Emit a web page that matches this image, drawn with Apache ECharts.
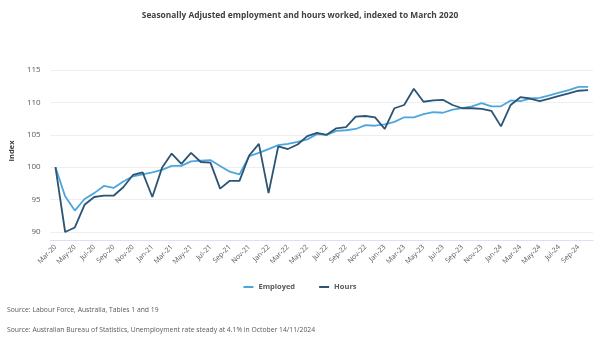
<!DOCTYPE html>
<html>
<head>
<meta charset="utf-8">
<script src="https://cdn.jsdelivr.net/npm/echarts@6/dist/echarts.min.js"></script>
<style>
html,body{margin:0;padding:0;background:#fff;}
#c{width:600px;height:345px;}
</style>
</head>
<body>
<div id="c"></div>
<script>
const months = ['Mar','Apr','May','Jun','Jul','Aug','Sep','Oct','Nov','Dec','Jan','Feb'];
const categories = [];
(function(){
  let m = 0, y = 20;
  for (let i = 0; i < 56; i++) {
    categories.push(months[m] + '-' + y);
    m++;
    if (m === 10) y++;
    if (m === 12) m = 0;
  }
})();
const employed = [100,95.5,93.3,95.1,96.0,97.1,96.8,97.8,98.6,98.9,
  99.2,99.6,100.2,100.2,100.9,101.0,101.1,100.2,99.3,98.9,
  101.7,102.2,102.8,103.4,103.6,103.9,104.3,105.1,105.0,105.6,
  105.7,105.9,106.5,106.4,106.6,107.0,107.7,107.7,108.2,108.5,
  108.4,108.9,109.1,109.4,109.9,109.4,109.4,110.3,110.2,110.6,
  110.7,111.1,111.5,111.9,112.4,112.4];
const hours = [100,90.0,90.7,94.2,95.4,95.6,95.6,96.9,98.8,99.2,
  95.4,99.9,102.1,100.5,102.2,100.8,100.7,96.7,97.9,97.9,
  101.8,103.6,96.0,103.2,102.8,103.5,104.8,105.3,105.0,106.0,
  106.2,107.8,107.9,107.7,105.9,109.1,109.6,112.1,110.1,110.3,
  110.4,109.6,109.1,109.1,109.0,108.7,106.3,109.6,110.8,110.6,
  110.2,110.6,111.0,111.4,111.8,111.9];
const yTicks = [90,95,100,105,110,115];

const chart = echarts.init(document.getElementById('c'), null, {renderer:'canvas'});
const font = '"Open Sans", "Noto Sans", sans-serif';
chart.setOption({
  animation:false,
  backgroundColor:'#fff',
  title:{
    text:'Seasonally Adjusted employment and hours worked, indexed to March 2020',
    left:'center', top:7,
    textStyle:{fontSize:8.4,fontWeight:'bold',color:'#404040',fontFamily:font}
  },
  legend:{
    bottom:49, left:'center', itemWidth:10, itemHeight:2, itemGap:24,
    icon:'rect',
    textStyle:{fontSize:7.5,color:'#595959',fontFamily:font,fontWeight:'bold'},
    data:['Employed','Hours']
  },
  grid:{left:47,right:7,top:70,bottom:113},
  xAxis:{
    type:'category', data:categories, boundaryGap:true, offset:8,
    axisLine:{lineStyle:{color:'#d9e1f2',width:1}},
    axisTick:{show:false},
    axisLabel:{interval:1,rotate:45,fontSize:7,color:'#595959',fontFamily:font,margin:6}
  },
  yAxis:{
    type:'value', min:90, max:115, interval:5,
    name:'Index', nameLocation:'middle', nameGap:26, nameRotate:90,
    nameTextStyle:{fontSize:7.5,color:'#404040',fontWeight:'bold',fontFamily:font},
    axisLine:{show:false}, axisTick:{show:false},
    axisLabel:{fontSize:8,color:'#595959',fontFamily:font,margin:10},
    splitLine:{lineStyle:{color:'#eeeeee',width:1}}
  },
  series:[
    {name:'Employed',type:'line',data:employed,showSymbol:false,symbol:'none',
     lineStyle:{color:'#4ea6dc',width:1.8},itemStyle:{color:'#4ea6dc'}},
    {name:'Hours',type:'line',data:hours,showSymbol:false,symbol:'none',
     lineStyle:{color:'#2b5475',width:1.8},itemStyle:{color:'#2b5475'}}
  ],
  graphic:[
    {type:'text',left:7,top:307,style:{text:'Source: Labour Force, Australia, Tables 1 and 19',fontSize:6.8,fill:'#595959',fontFamily:font}},
    {type:'text',left:7,top:327,style:{text:'Source: Australian Bureau of Statistics, Unemployment rate steady at 4.1% in October 14/11/2024',fontSize:6.8,fill:'#595959',fontFamily:font}}
  ]
});
</script>
</body>
</html>
